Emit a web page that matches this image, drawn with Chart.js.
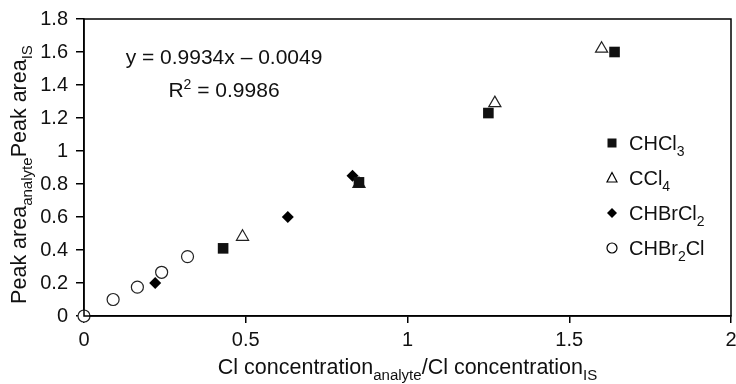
<!DOCTYPE html>
<html>
<head>
<meta charset="utf-8">
<script src="https://cdn.jsdelivr.net/npm/chart.js@4.4.1/dist/chart.umd.min.js"></script>
<style>
  html, body { margin: 0; padding: 0; background: #fff; }
  #wrap { width: 736px; height: 384px; }
</style>
</head>
<body>
<div id="wrap"><canvas id="myChart" width="736" height="384"></canvas></div>
<script>
// data
const chcl3X = [0.43, 0.85, 1.25, 1.64];
const chcl3Y = [0.41, 0.81, 1.23, 1.60];
const ccl4X = [0.49, 0.85, 1.27, 1.60];
const ccl4Y = [0.48, 0.80, 1.29, 1.62];
const chbrcl2X = [0.22, 0.63, 0.83];
const chbrcl2Y = [0.20, 0.60, 0.85];
const chbr2clX = [0, 0.09, 0.165, 0.24, 0.32];
const chbr2clY = [0, 0.10, 0.175, 0.265, 0.36];

const xTicks = [0, 0.5, 1, 1.5, 2];
const yTicks = [0, 0.2, 0.4, 0.6, 0.8, 1, 1.2, 1.4, 1.6, 1.8];

const FONT = "'Liberation Sans', Arial, sans-serif";

function pts(xs, ys) {
    return xs.map((x, i) => ({ x: x, y: ys[i] }));
}

// draws text made of [string, isSub] pieces
function richText(ctx, parts, x, y, size, align) {
    let w = 0;
    parts.forEach(p => {
        ctx.font = (p[1] ? size * 0.7 : size) + "px " + FONT;
        w += ctx.measureText(p[0]).width;
    });
    let cx = align === 'center' ? x - w / 2 : x;
    parts.forEach(p => {
        ctx.font = (p[1] ? size * 0.7 : size) + "px " + FONT;
        ctx.fillText(p[0], cx, p[1] ? y + size * 0.3 : y);
        cx += ctx.measureText(p[0]).width;
    });
    return w;
}

function marker(ctx, style, x, y, r) {
    ctx.beginPath();
    ctx.lineWidth = 1.2;
    ctx.strokeStyle = '#000';
    if (style === 'rect') {
        ctx.rect(x - r, y - r, 2 * r, 2 * r);
        ctx.fillStyle = '#111';
        ctx.fill();
    } else if (style === 'triangle') {
        ctx.moveTo(x, y - r * 1.1);
        ctx.lineTo(x + r, y + r * 0.8);
        ctx.lineTo(x - r, y + r * 0.8);
        ctx.closePath();
        ctx.fillStyle = '#fff';
        ctx.fill();
        ctx.stroke();
    } else if (style === 'rectRot') {
        ctx.moveTo(x, y - r);
        ctx.lineTo(x + r, y);
        ctx.lineTo(x, y + r);
        ctx.lineTo(x - r, y);
        ctx.closePath();
        ctx.fillStyle = '#000';
        ctx.fill();
    } else {
        ctx.arc(x, y, r, 0, Math.PI * 2);
        ctx.fillStyle = '#fff';
        ctx.fill();
        ctx.stroke();
    }
}

const legendItems = [
    { style: 'rect', parts: [['CHCl', false], ['3', true]] },
    { style: 'triangle', parts: [['CCl', false], ['4', true]] },
    { style: 'rectRot', parts: [['CHBrCl', false], ['2', true]] },
    { style: 'circle', parts: [['CHBr', false], ['2', true], ['Cl', false]] }
];

const extras = {
    id: 'extras',
    afterDraw(chart) {
        const ctx = chart.ctx;
        const a = chart.chartArea;
        ctx.save();
        // frame
        ctx.strokeStyle = '#000';
        ctx.lineWidth = 1.5;
        ctx.strokeRect(a.left, a.top, a.right - a.left, a.bottom - a.top);

        ctx.fillStyle = '#111';
        ctx.textBaseline = 'alphabetic';
        ctx.textAlign = 'left';
        // equation
        richText(ctx, [['y = 0.9934x \u2013 0.0049', false]], 224, 64, 21, 'center');
        ctx.font = "21px " + FONT;
        let w1 = ctx.measureText('R').width;
        ctx.font = "14px " + FONT;
        let w2 = ctx.measureText('2').width;
        ctx.font = "21px " + FONT;
        let w3 = ctx.measureText(' = 0.9986').width;
        let sx = 224 - (w1 + w2 + w3) / 2;
        ctx.fillText('R', sx, 97);
        ctx.font = "14px " + FONT;
        ctx.fillText('2', sx + w1, 89);
        ctx.font = "21px " + FONT;
        ctx.fillText(' = 0.9986', sx + w1 + w2, 97);

        // legend
        legendItems.forEach((it, i) => {
            const y = 143 + i * 35;
            marker(ctx, it.style, 612, y, it.style === 'rect' ? 4.5 : 5);
            ctx.fillStyle = '#111';
            richText(ctx, it.parts, 629, y + 7, 20, 'left');
        });

        // x title
        ctx.fillStyle = '#111';
        richText(ctx, [['Cl concentration', false], ['analyte', true], ['/Cl concentration', false], ['IS', true]],
            (a.left + a.right) / 2, 374, 21.5, 'center');

        // y title
        ctx.translate(26, (a.top + a.bottom) / 2 + 7);
        ctx.rotate(-Math.PI / 2);
        richText(ctx, [['Peak area', false], ['analyte', true], ['Peak area', false], ['IS', true]], 0, 0, 21.5, 'center');
        ctx.restore();
    }
};

const scatterData = {
    datasets: [
        { label: 'CHCl3', data: pts(chcl3X, chcl3Y), pointStyle: 'rect', pointRadius: 7.5,
          backgroundColor: '#111', borderColor: '#111', borderWidth: 0 },
        { label: 'CCl4', data: pts(ccl4X, ccl4Y), pointStyle: 'triangle', pointRadius: 7,
          backgroundColor: '#fff', borderColor: '#222', borderWidth: 1.2 },
        { label: 'CHBrCl2', data: pts(chbrcl2X, chbrcl2Y), pointStyle: 'rectRot', pointRadius: 6,
          backgroundColor: '#000', borderColor: '#000', borderWidth: 0 },
        { label: 'CHBr2Cl', data: pts(chbr2clX, chbr2clY), pointStyle: 'circle', pointRadius: 6,
          backgroundColor: '#fff', borderColor: '#222', borderWidth: 1.2 }
    ]
};

const myChart = new Chart(document.getElementById('myChart'), {
    type: 'scatter',
    data: scatterData,
    options: {
        responsive: false,
        animation: false,
        clip: false,
        layout: { autoPadding: false, padding: { left: 0, right: 5, top: 19, bottom: 0 } },
        plugins: { legend: { display: false }, tooltip: { enabled: false } },
        scales: {
            x: {
                type: 'linear', min: 0, max: 2,
                afterBuildTicks: s => { s.ticks = xTicks.map(v => ({ value: v })); },
                afterFit: s => { s.height = 68; s.paddingLeft = 0; s.paddingRight = 0; },
                grid: { drawOnChartArea: false, tickLength: 7, color: '#000', lineWidth: 1.5 },
                border: { color: '#000', width: 1.5 },
                ticks: { color: '#111', font: { family: FONT, size: 20 }, padding: 5, maxRotation: 0,
                         callback: v => String(v) }
            },
            y: {
                type: 'linear', min: 0, max: 1.8,
                afterBuildTicks: s => { s.ticks = yTicks.map(v => ({ value: v })); },
                afterFit: s => { s.width = 84; s.paddingTop = 0; s.paddingBottom = 0; },
                grid: { drawOnChartArea: false, tickLength: 8, color: '#000', lineWidth: 1.5 },
                border: { color: '#000', width: 1.5 },
                ticks: { color: '#111', font: { family: FONT, size: 20 }, padding: 8,
                         callback: v => String(v) }
            }
        }
    },
    plugins: [extras]
});
</script>
</body>
</html>
